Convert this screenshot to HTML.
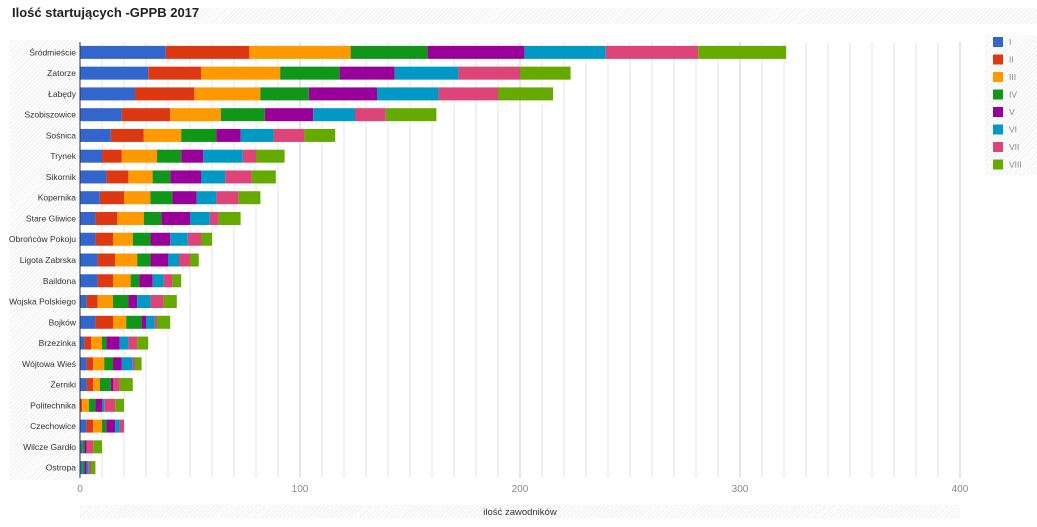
<!DOCTYPE html>
<html><head><meta charset="utf-8"><style>
body{margin:0;width:1037px;height:527px;background:#fff;font-family:"Liberation Sans","Noto Sans CJK SC",sans-serif;overflow:hidden;position:relative}
.hatch{position:absolute;background:repeating-linear-gradient(135deg,#fff 0 2px,#eee 2px 3px)}
#title{position:absolute;left:12px;top:5px;font-size:13px;font-weight:bold;color:#222}
</style></head><body>
<div class="hatch" style="left:190px;top:8px;width:847px;height:16px"></div>
<div class="hatch" style="left:10px;top:40px;width:70px;height:440px"></div>
<div class="hatch" style="left:80px;top:505px;width:880px;height:13px"></div>
<div class="hatch" style="left:985px;top:35px;width:52px;height:140px"></div>
<div id="title">Ilość startujących -GPPB 2017</div>
<svg id="chart" width="1037" height="527" style="position:absolute;left:0;top:0"></svg>
<script>
const categories=["Śródmieście","Zatorze","Łabędy","Szobiszowice","Sośnica","Trynek","Sikornik","Kopernika","Stare Gliwice","Obrońców Pokoju","Ligota Zabrska","Baildona","Wojska Polskiego","Bojków","Brzezinka","Wójtowa Wieś","Żerniki","Politechnika","Czechowice","Wilcze Gardło","Ostropa"];
const seriesNames=["I","II","III","IV","V","VI","VII","VIII"];
const colors=["#3366cc","#dc3912","#ff9900","#109618","#990099","#0099c6","#dd4477","#66aa00"];
const sI   =[39,31,25,19,14,10,12,9,7,7,8,8,3,7,2,3,3,0,3,1,1];
const sII  =[38,24,27,22,15,9,10,11,10,8,8,7,5,8,3,3,3,1,3,0,0];
const sIII =[46,36,30,23,17,16,11,12,12,9,10,8,7,6,5,5,3,3,4,0,0];
const sIV  =[35,27,22,20,16,11,8,10,8,8,6,4,7,7,2,4,5,3,2,1,1];
const sV   =[44,25,31,22,11,10,14,11,13,9,8,6,4,2,6,4,1,3,4,1,1];
const sVI  =[37,29,28,19,15,18,11,9,9,8,5,5,6,4,4,5,0,1,2,0,1];
const sVII =[42,28,27,14,14,6,12,10,4,6,5,4,6,1,4,1,3,5,2,3,1];
const sVIII=[40,23,25,23,14,13,11,10,10,5,4,4,6,6,5,3,6,4,0,4,2];
const series=[sI,sII,sIII,sIV,sV,sVI,sVII,sVIII];
const xTicks=[0,100,200,300,400];
const NS="http://www.w3.org/2000/svg",svg=document.getElementById('chart');
const x0=80,x1=960,xmax=400,top0=42,bot=478;
const xs=v=>x0+v/xmax*(x1-x0);
const band=(bot-top0)/categories.length;
const yc=i=>top0+band*(i+0.5);
function mk(t,a){const e=document.createElementNS(NS,t);for(const k in a)e.setAttribute(k,a[k]);svg.appendChild(e);return e;}
for(let v=0;v<=xmax;v+=10){
 const g=mk('line',{x1:xs(v),x2:xs(v),y1:top0,y2:bot,stroke:v%100===0?'#ccc':'#e6e6e6','stroke-width':1});
 
 
}
xTicks.forEach(v=>{
 const t=mk('text',{x:xs(v),y:492,'font-size':10,fill:'#888','text-anchor':'middle'});t.textContent=v;
 
 
});
categories.forEach((c,i)=>{
 const t=mk('text',{x:76,y:yc(i)+3,'font-size':8.5,fill:'#333','text-anchor':'end'});t.textContent=c;
 
 
 let acc=0;
 series.forEach((s,k)=>{
  const v=s[i];if(v<=0)return;
  const r=mk('rect',{x:xs(acc),y:yc(i)-6.5,width:xs(acc+v)-xs(acc),height:13,fill:colors[k]});
  
  
  acc+=v;
 });
});
const ax=mk('line',{x1:x0,x2:x0,y1:top0,y2:bot,stroke:'#333','stroke-width':1});


const at=mk('text',{x:520,y:515,'font-size':9.5,fill:'#333','text-anchor':'middle'});at.textContent='ilość zawodników';


seriesNames.forEach((n,k)=>{
 const y=42+k*17.5;
 const r=mk('rect',{x:993,y:y-5,width:10,height:10,fill:colors[k]});
 
 
 const t=mk('text',{x:1009,y:y+3,'font-size':8.5,fill:'#888'});t.textContent=n;
 
 
});
</script>
</body></html>
